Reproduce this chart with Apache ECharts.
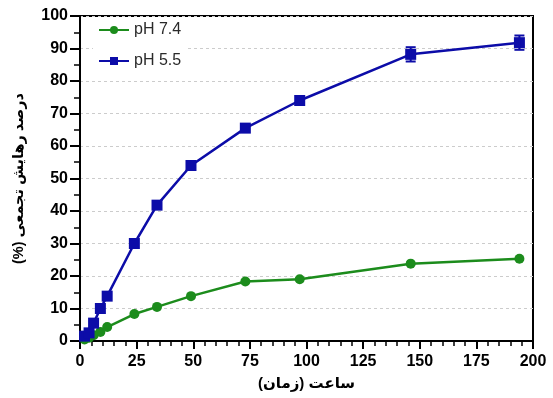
<!DOCTYPE html>
<html>
<head>
<meta charset="utf-8">
<script src="https://cdn.jsdelivr.net/npm/echarts@6/dist/echarts.min.js"></script>
<style>
  html, body { margin: 0; padding: 0; background: #fff; }
  #releaseChart { width: 553px; height: 398px; }
</style>
</head>
<body>
<div id="releaseChart"></div>
<script>
// زمان (ساعت)
var hours = [2, 4, 6, 9, 12, 24, 34, 49, 73, 97, 146, 194];
// pH 7.4
var releasePh74 = [0.5, 1, 1.8, 2.8, 4.3, 8.3, 10.5, 13.8, 18.3, 19, 23.8, 25.3];
// pH 5.5
var releasePh55 = [1.5, 2.5, 5.5, 10, 13.8, 30, 41.8, 54, 65.5, 74, 88.2, 91.8];
var errPh55 = [0, 0, 0, 0, 0, 0, 0, 0, 0, 0, 2.2, 2.2];
var xTicks = [0, 25, 50, 75, 100, 125, 150, 175, 200];
var yTicks = [0, 10, 20, 30, 40, 50, 60, 70, 80, 90, 100];

var green = '#1c8c1c';
var blue = '#0c0ca8';
var fontFam = 'Arial, "Liberation Sans", "DejaVu Sans", sans-serif';

var chart = echarts.init(document.getElementById('releaseChart'), null, { renderer: 'canvas' });

function pairs(xs, ys) {
    return xs.map(function (x, i) { return [x, ys[i]]; });
}

var errData = hours.map(function (h, i) {
    return [h, releasePh55[i] - errPh55[i], releasePh55[i] + errPh55[i]];
}).filter(function (d, i) { return errPh55[i] > 0; });

option = {
    animation: false,
    backgroundColor: '#fff',
    grid: {
        left: 80,
        right: 20,
        top: 16,
        bottom: 57,
        show: true,
        borderColor: '#000',
        borderWidth: 2
    },
    legend: {
        left: 93,
        top: 17,
        orient: 'vertical',
        itemGap: 15,
        itemWidth: 30,
        itemHeight: 10,
        backgroundColor: '#fff',
        textStyle: { fontSize: 16, color: '#2a2a2a', fontFamily: fontFam },
        data: ['pH 7.4', 'pH 5.5']
    },
    xAxis: {
        type: 'value',
        min: xTicks[0],
        max: xTicks[xTicks.length - 1],
        interval: 25,
        name: 'ساعت (زمان)',
        nameLocation: 'middle',
        nameGap: 35,
        nameTextStyle: { fontSize: 15, fontWeight: 'bold', color: '#000', fontFamily: fontFam },
        axisLine: { lineStyle: { color: '#000', width: 2 } },
        axisTick: { inside: false, length: 8, lineStyle: { color: '#000', width: 2 } },
        minorTick: { show: true, splitNumber: 5, length: 5, lineStyle: { color: '#000', width: 1.5 } },
        axisLabel: { fontSize: 16, fontWeight: 'bold', color: '#000', margin: 13, fontFamily: fontFam },
        splitLine: { show: false }
    },
    yAxis: {
        type: 'value',
        min: yTicks[0],
        max: yTicks[yTicks.length - 1],
        interval: 10,
        name: '\u2067درصد رهایش تجمعی (%)\u2069',
        nameLocation: 'middle',
        nameGap: 54,
        nameRotate: 90,
        nameTextStyle: { fontSize: 14.5, fontWeight: 'bold', color: '#000', fontFamily: fontFam },
        axisLine: { show: true, lineStyle: { color: '#000', width: 2 } },
        axisTick: { show: true, length: 10, lineStyle: { color: '#000', width: 2 } },
        minorTick: { show: true, splitNumber: 2, length: 6, lineStyle: { color: '#000', width: 1.5 } },
        axisLabel: { fontSize: 16, fontWeight: 'bold', color: '#000', margin: 12, fontFamily: fontFam },
        splitLine: { show: true, lineStyle: { color: '#cccccc', type: [3, 3], width: 1 } }
    },
    series: [
        {
            name: 'pH 7.4',
            type: 'line',
            data: pairs(hours, releasePh74),
            symbol: 'circle',
            symbolSize: 10,
            itemStyle: { color: green },
            lineStyle: { color: green, width: 2.5 },
            z: 3
        },
        {
            name: 'pH 5.5',
            type: 'line',
            data: pairs(hours, releasePh55),
            symbol: 'rect',
            symbolSize: 11,
            itemStyle: { color: blue },
            lineStyle: { color: blue, width: 2.5 },
            z: 4
        },
        {
            name: 'pH 5.5 err',
            type: 'custom',
            data: errData,
            z: 5,
            renderItem: function (params, api) {
                var lo = api.coord([api.value(0), api.value(1)]);
                var hi = api.coord([api.value(0), api.value(2)]);
                var w = 5;
                var st = { stroke: blue, lineWidth: 2 };
                return {
                    type: 'group',
                    children: [
                        { type: 'line', shape: { x1: lo[0], y1: lo[1], x2: hi[0], y2: hi[1] }, style: st },
                        { type: 'line', shape: { x1: lo[0] - w, y1: lo[1], x2: lo[0] + w, y2: lo[1] }, style: st },
                        { type: 'line', shape: { x1: hi[0] - w, y1: hi[1], x2: hi[0] + w, y2: hi[1] }, style: st }
                    ]
                };
            }
        }
    ]
};

chart.setOption(option);
</script>
</body>
</html>
